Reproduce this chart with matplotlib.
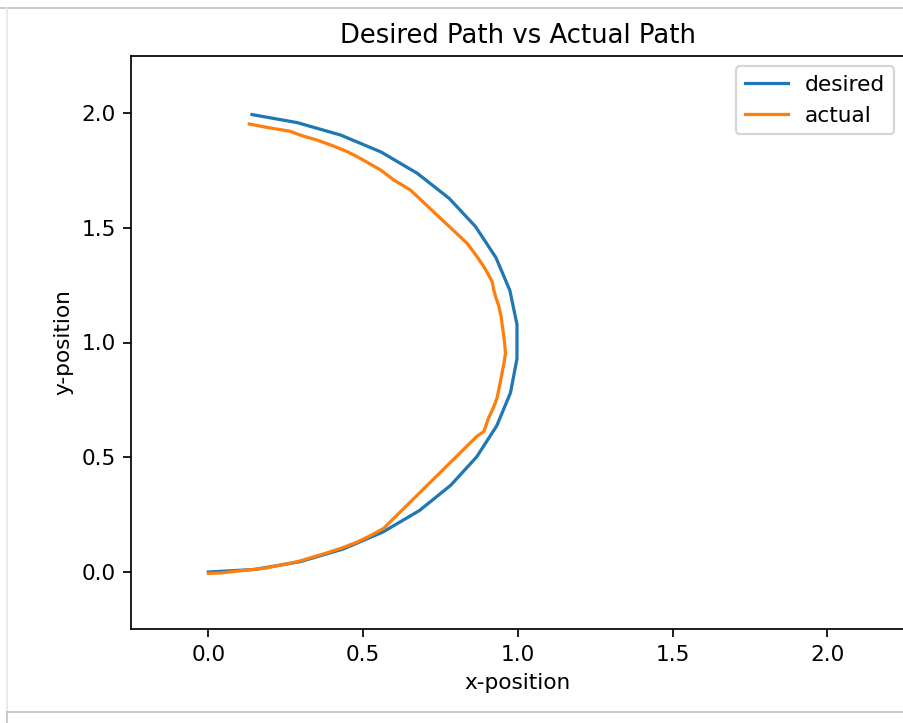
import matplotlib

matplotlib.use("Agg")
import matplotlib.pyplot as plt
from matplotlib.lines import Line2D

# desired path (polyline vertices)
desired_x = [0.0, 0.149, 0.296, 0.435, 0.565, 0.682, 0.783, 0.867, 0.932, 0.976, 0.997,
             0.997, 0.974, 0.929, 0.863, 0.778, 0.675, 0.558, 0.427, 0.287, 0.141]
desired_y = [0.0, 0.011, 0.045, 0.100, 0.175, 0.268, 0.378, 0.502, 0.638, 0.781, 0.929,
             1.079, 1.227, 1.370, 1.505, 1.628, 1.737, 1.830, 1.904, 1.958, 1.993]

# actual path
actual_x = [0.0, 0.04, 0.10, 0.18, 0.24, 0.29, 0.33, 0.38, 0.43, 0.48, 0.52, 0.566,
            0.868, 0.89, 0.905, 0.922, 0.933, 0.945, 0.955, 0.960, 0.957, 0.951, 0.946,
            0.938, 0.928, 0.922, 0.917, 0.903, 0.89, 0.868, 0.836, 0.653, 0.599, 0.556,
            0.50, 0.48, 0.448, 0.40, 0.351, 0.31, 0.29, 0.265, 0.23, 0.19, 0.132]
actual_y = [-0.006, -0.004, 0.005, 0.016, 0.032, 0.046, 0.062, 0.082, 0.104, 0.130, 0.156, 0.190,
            0.592, 0.612, 0.67, 0.72, 0.76, 0.84, 0.91, 0.953, 1.0, 1.06, 1.11,
            1.16, 1.20, 1.229, 1.265, 1.30, 1.33, 1.374, 1.432, 1.664, 1.708, 1.752,
            1.795, 1.810, 1.832, 1.858, 1.882, 1.898, 1.907, 1.920, 1.928, 1.937, 1.952]

DPI = 155.5
fig = plt.figure(figsize=(903 / DPI, 723 / DPI), dpi=DPI)
ax = fig.add_axes([131 / 903, 1 - 629.4 / 723, 773.8 / 903, 573.8 / 723])

ax.plot(desired_x, desired_y, label="desired")
ax.plot(actual_x, actual_y, label="actual")
ax.set_xlim(-0.25, 2.25)
ax.set_ylim(-0.25, 2.25)
ax.set_xticks([0.0, 0.5, 1.0, 1.5, 2.0])
ax.set_yticks([0.0, 0.5, 1.0, 1.5, 2.0])
ax.set_title("Desired Path vs Actual Path")
ax.set_xlabel("x-position")
ax.set_ylabel("y-position")
ax.legend(loc="upper right")

# notebook cell frame around the output
fig.add_artist(Line2D([0, 1], [1 - 8 / 723] * 2, transform=fig.transFigure,
                      color="#c4c4c4", lw=0.8))
fig.add_artist(Line2D([7 / 903] * 2, [1 - 8 / 723, 1 - 712 / 723], transform=fig.transFigure,
                      color="#e6e6e6", lw=0.8))
fig.add_artist(Line2D([7 / 903, 1], [1 - 712 / 723] * 2, transform=fig.transFigure,
                      color="#c4c4c4", lw=0.8))
fig.add_artist(Line2D([7 / 903] * 2, [1 - 712 / 723, 0], transform=fig.transFigure,
                      color="#c4c4c4", lw=0.8))

fig.savefig("out.png", dpi=DPI)
